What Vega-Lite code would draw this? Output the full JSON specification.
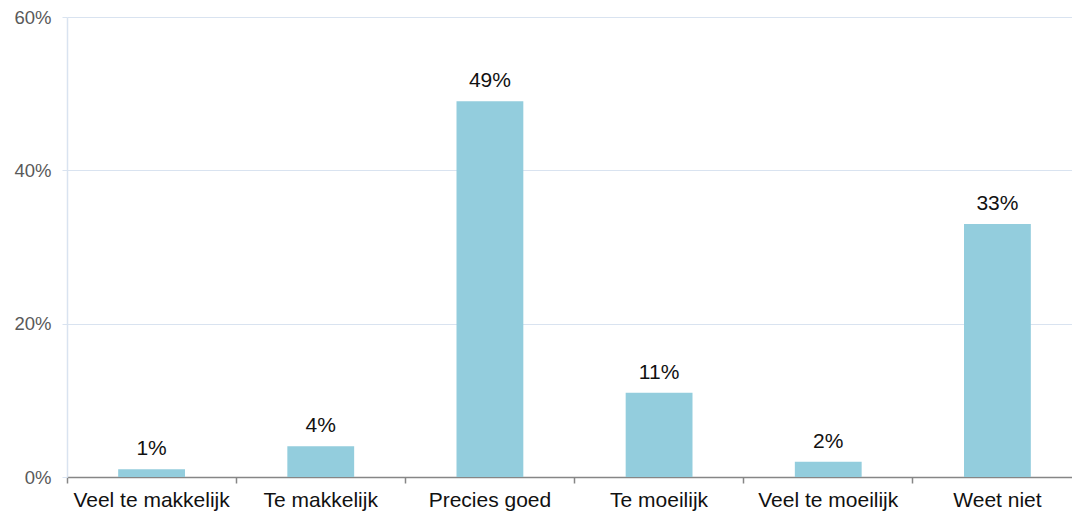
{
  "$schema": "https://vega.github.io/schema/vega-lite/v6.json",
  "width": 1015,
  "height": 460,
  "autosize": "none",
  "padding": {"left": 67, "top": 17, "right": 0, "bottom": 37},
  "background": "white",
  "config": {"view": {"stroke": null}, "font": "Liberation Sans"},
  "data": {"values": [
    {"cat": "Veel te makkelijk", "v": 0.01, "lbl": "1%"},
    {"cat": "Te makkelijk", "v": 0.04, "lbl": "4%"},
    {"cat": "Precies goed", "v": 0.49, "lbl": "49%"},
    {"cat": "Te moeilijk", "v": 0.11, "lbl": "11%"},
    {"cat": "Veel te moeilijk", "v": 0.02, "lbl": "2%"},
    {"cat": "Weet niet", "v": 0.33, "lbl": "33%"}
  ]},
  "encoding": {
    "x": {"field": "cat", "type": "nominal", "sort": null,
      "scale": {"paddingInner": 0, "paddingOuter": 0},
      "axis": {"title": null, "labelAngle": 0, "bandPosition": 0, "domainColor": "#868686", "domainWidth": 1.5,
        "tickColor": "#868686", "tickSize": 6, "tickWidth": 1.5, "labelFontSize": 21, "labelColor": "#111111",
        "labelPadding": 6, "labelFont": "Liberation Sans"}},
    "y": {"field": "v", "type": "quantitative",
      "scale": {"domain": [0, 0.6], "nice": false},
      "axis": {"title": null, "format": ".0%", "values": [0, 0.2, 0.4, 0.6], "domainColor": "#D9E3F0", "domainWidth": 1.5,
        "tickColor": "#D9E3F0", "tickSize": 5, "gridColor": "#D9E3F0", "gridWidth": 1, "labelFontSize": 18.5,
        "labelColor": "#595959", "labelPadding": 11, "labelFont": "Liberation Sans"}}
  },
  "layer": [
    {"mark": {"type": "bar", "color": "#93CDDD", "width": {"band": 0.395}}},
    {"mark": {"type": "text", "baseline": "alphabetic", "dy": -14, "fontSize": 21, "color": "#111111", "font": "Liberation Sans"},
     "encoding": {"text": {"field": "lbl"}}}
  ]
}
